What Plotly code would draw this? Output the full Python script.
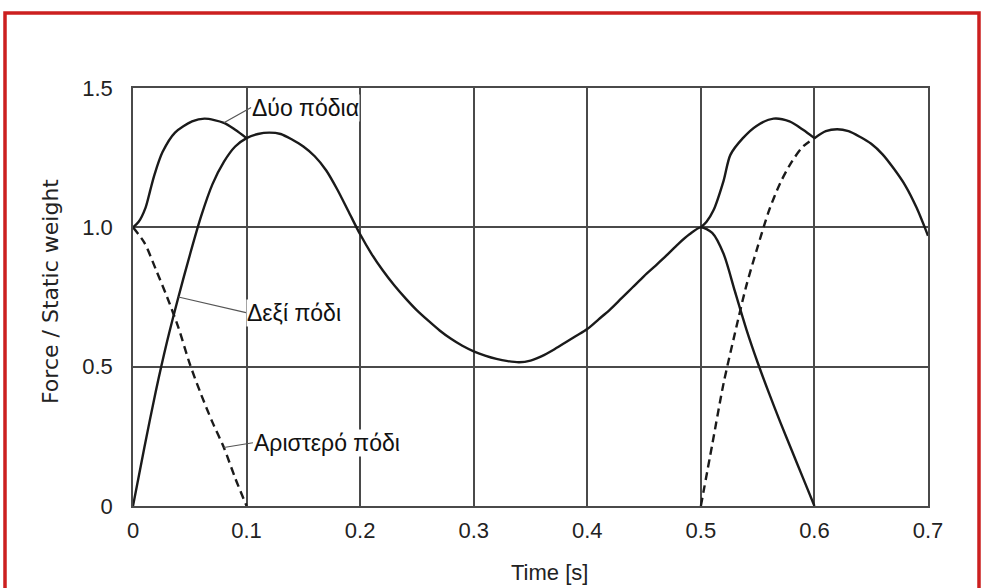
import plotly.graph_objects as go

# ---- data ----
right_t = [0.00, 0.01, 0.02, 0.03, 0.04, 0.05, 0.06, 0.07, 0.08, 0.09, 0.10,
           0.11, 0.12, 0.13, 0.14, 0.15, 0.16, 0.17, 0.18, 0.19, 0.20,
           0.21, 0.22, 0.23, 0.24, 0.25, 0.26, 0.27, 0.28, 0.29, 0.30,
           0.31, 0.32, 0.33, 0.34, 0.35, 0.36, 0.37, 0.38, 0.39, 0.40,
           0.41, 0.42, 0.43, 0.44, 0.45, 0.46, 0.47, 0.48, 0.49, 0.50,
           0.51, 0.52, 0.53, 0.54, 0.55, 0.56, 0.57, 0.58, 0.59, 0.60]
right_v = [0.00, 0.21, 0.41, 0.59, 0.75, 0.90, 1.04, 1.155, 1.235, 1.29, 1.32,
           1.335, 1.34, 1.335, 1.315, 1.29, 1.255, 1.205, 1.135, 1.055, 0.975,
           0.905, 0.845, 0.792, 0.745, 0.702, 0.665, 0.63, 0.60, 0.575, 0.555,
           0.54, 0.528, 0.52, 0.516, 0.522, 0.538, 0.56, 0.585, 0.61, 0.635,
           0.67, 0.705, 0.745, 0.785, 0.825, 0.862, 0.90, 0.94, 0.975, 1.00,
           0.98, 0.905, 0.77, 0.635, 0.515, 0.405, 0.30, 0.20, 0.10, 0.00]

left1_t = [0.00, 0.01, 0.02, 0.03, 0.04, 0.05, 0.06, 0.07, 0.08, 0.09, 0.10]
left1_v = [1.00, 0.945, 0.85, 0.75, 0.64, 0.51, 0.40, 0.30, 0.21, 0.10, 0.00]

left2_t = [0.50, 0.51, 0.52, 0.53, 0.54, 0.55, 0.56, 0.57, 0.58, 0.59, 0.60]
left2_v = [0.00, 0.22, 0.44, 0.62, 0.79, 0.93, 1.06, 1.16, 1.235, 1.29, 1.32]

left3_t = [0.60, 0.61, 0.62, 0.63, 0.64, 0.65, 0.66, 0.67, 0.68, 0.69, 0.70]
left3_v = [1.32, 1.345, 1.352, 1.345, 1.325, 1.30, 1.262, 1.21, 1.15, 1.07, 0.97]

both1_t = [0.000, 0.005, 0.011, 0.015, 0.019, 0.026, 0.037, 0.052, 0.063, 0.080, 0.090, 0.100]
both1_v = [1.00, 1.02, 1.07, 1.13, 1.19, 1.27, 1.34, 1.38, 1.39, 1.375, 1.35, 1.32]

both2_t = [0.500, 0.505, 0.511, 0.520, 0.526, 0.537, 0.549, 0.564, 0.578, 0.590, 0.600]
both2_v = [1.00, 1.02, 1.06, 1.167, 1.26, 1.32, 1.364, 1.39, 1.38, 1.35, 1.32]

x_ticks = [0, 0.1, 0.2, 0.3, 0.4, 0.5, 0.6, 0.7]
x_labels = ["0", "0.1", "0.2", "0.3", "0.4", "0.5", "0.6", "0.7"]
y_ticks = [0, 0.5, 1.0, 1.5]
y_labels = ["0", "0.5", "1.0", "1.5"]

label_both = "Δύο πόδια"
label_right = "Δεξί πόδι"
label_left = "Αριστερό πόδι"
x_title = "Time [s]"
y_title = "Force / Static weight"

# ---- figure ----
INK = "#1a1a1a"
W, H = 982, 588
ML, MR, MT, MB = 133, 54, 88, 82
PW, PH = W - ML - MR, H - MT - MB

def px_x(p):
    return (p - ML) / PW

def px_y(p):
    return (H - MB - p) / PH

fig = go.Figure()

def add(t, v, dash="solid"):
    fig.add_trace(go.Scatter(x=t, y=v, mode="lines",
                             line=dict(color=INK, width=2.4, dash=dash,
                                       shape="spline", smoothing=0.8),
                             hoverinfo="skip", showlegend=False))

add(right_t, right_v)
add(left1_t, left1_v, "8px,5px")
add(left2_t, left2_v, "8px,5px")
add(left3_t, left3_v)
add(both1_t, both1_v)
add(both2_t, both2_v)

tick_font = dict(family="Liberation Sans Narrow, Arial Narrow, Liberation Sans, Arial",
                 size=22, color="#222")

fig.update_layout(
    width=W, height=H,
    margin=dict(l=ML, r=MR, t=MT, b=MB),
    paper_bgcolor="white", plot_bgcolor="white",
    xaxis=dict(range=[0, 0.7], tickvals=x_ticks, ticktext=x_labels,
               showgrid=True, gridcolor="#4a4a4a", gridwidth=1.6,
               showline=True, linecolor="#4a4a4a", linewidth=1.6, mirror=True,
               zeroline=False, ticks="", ticklabelstandoff=4,
               tickfont=tick_font, fixedrange=True),
    yaxis=dict(range=[0, 1.5], tickvals=y_ticks, ticktext=y_labels,
               showgrid=True, gridcolor="#4a4a4a", gridwidth=1.6,
               showline=True, linecolor="#4a4a4a", linewidth=1.6, mirror=True,
               zeroline=False, ticks="", ticklabelstandoff=14,
               tickfont=tick_font, fixedrange=True),
)

ann_font = dict(family="Liberation Sans, Arial", size=23, color="#111")

# Labels with leader lines (anchored on data points)
fig.add_annotation(x=both1_t[9], y=both1_v[9], ax=0.104, ay=1.43,
                   axref="x", ayref="y", xref="x", yref="y",
                   text=label_both, showarrow=True, arrowhead=0,
                   arrowwidth=1.2, arrowcolor="#555", xanchor="left",
                   bgcolor="white", font=ann_font, borderpad=0)
fig.add_annotation(x=right_t[4], y=right_v[4], ax=0.0995, ay=0.694,
                   axref="x", ayref="y", xref="x", yref="y",
                   text=label_right, showarrow=True, arrowhead=0,
                   arrowwidth=1.2, arrowcolor="#555", xanchor="left",
                   bgcolor="white", font=ann_font, borderpad=0)
fig.add_annotation(x=left1_t[8], y=left1_v[8], ax=0.1056, ay=0.227,
                   axref="x", ayref="y", xref="x", yref="y",
                   text=label_left, showarrow=True, arrowhead=0,
                   arrowwidth=1.2, arrowcolor="#555", xanchor="left",
                   bgcolor="white", font=ann_font, borderpad=0)

# Axis titles
fig.add_annotation(x=px_x(549), y=px_y(572), xref="paper", yref="paper",
                   xanchor="center", yanchor="middle",
                   text=x_title, showarrow=False,
                   font=dict(family="Liberation Sans Narrow, Arial Narrow, Liberation Sans",
                             size=22, color="#222"))
fig.add_annotation(x=px_x(50), y=px_y(292), xref="paper", yref="paper",
                   xanchor="center", yanchor="middle",
                   text=y_title, showarrow=False, textangle=-90,
                   font=dict(family="DejaVu Sans, Liberation Sans", size=22, color="#222"))

# Red frame around the picture
fig.add_shape(type="rect", xref="paper", yref="paper",
              x0=px_x(5), x1=px_x(979), y0=px_y(600), y1=px_y(13),
              line=dict(color="#cc1f1f", width=3.5), fillcolor="rgba(0,0,0,0)",
              layer="above")

fig.write_html("out.html")
